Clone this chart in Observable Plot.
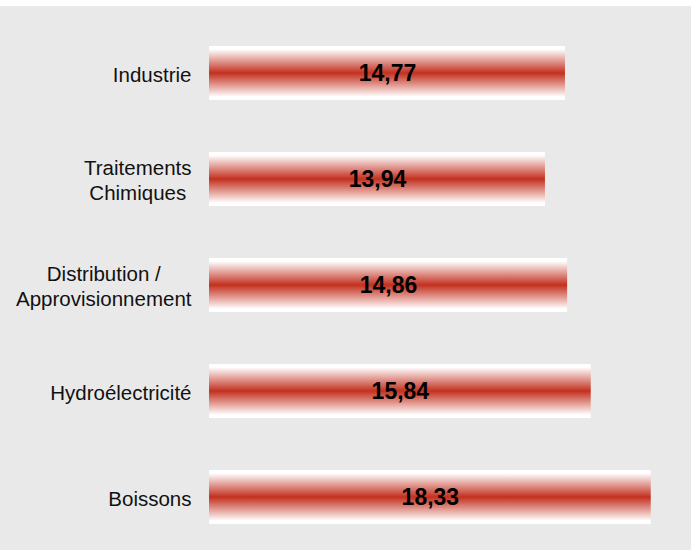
<!DOCTYPE html>
<html>
<head>
<meta charset="utf-8">
<script src="https://cdn.jsdelivr.net/npm/d3@7"></script>
<script src="https://cdn.jsdelivr.net/npm/@observablehq/plot@0.6"></script>
<style>
  html, body { margin: 0; padding: 0; background: #ffffff; }
  #chart { padding-top: 6px; width: 691px; }
  #chart svg { display: block; }
</style>
</head>
<body>
<div id="chart"></div>
<script>
const categories = ["Industrie", "Traitements\nChimiques", "Distribution /\nApprovisionnement", "Hydroélectricité", "Boissons"];
const values = [14.77, 13.94, 14.86, 15.84, 18.33];
const xTicks = [0, 20];

const data = categories.map((c, i) => ({category: c, value: values[i]}));
const fmt = v => v.toFixed(2).replace(".", ",");

const defs = () => {
  const d = d3.create("svg:defs");
  const g = d.append("linearGradient")
    .attr("id", "barGrad")
    .attr("x1", 0).attr("y1", 0).attr("x2", 0).attr("y2", 1);
  [[0, "#ffffff"], [0.06, "#ffffff"], [0.5, "#c3301f"], [0.94, "#ffffff"], [1, "#ffffff"]]
    .forEach(([o, c]) => g.append("stop").attr("offset", o).attr("stop-color", c));
  return d.node();
};

const chart = Plot.plot({
  width: 691,
  height: 544,
  marginTop: 14,
  marginBottom: 0,
  marginLeft: 209,
  marginRight: 0,
  style: {background: "#e9e9e9", fontFamily: "'Liberation Sans', Arial, sans-serif"},
  x: {domain: xTicks, axis: null},
  y: {domain: categories, paddingInner: 0.49, paddingOuter: 0.245, label: null},
  marks: [
    defs,
    Plot.barX(data, {x: "value", y: "category", fill: "url(#barGrad)"}),
    Plot.text(data, {
      x: d => d.value / 2,
      y: "category",
      text: d => fmt(d.value),
      fontSize: 23,
      fontWeight: "bold",
      fill: "#000000"
    }),
    Plot.axisY({tickSize: 0, tickPadding: 18, fontSize: 20.5, lineHeight: 1.22, fill: "#111111", label: null})
  ]
});

document.getElementById("chart").appendChild(chart);

// center the lines of multi-line category labels while keeping the block right-aligned
chart.querySelectorAll("g[aria-label='y-axis tick label'] text").forEach(t => {
  const spans = t.querySelectorAll("tspan");
  if (spans.length > 1) {
    const w = Math.max(...Array.from(spans, s => s.getComputedTextLength()));
    t.setAttribute("text-anchor", "middle");
    spans.forEach(s => s.setAttribute("x", -w / 2));
  }
});
</script>
</body>
</html>
